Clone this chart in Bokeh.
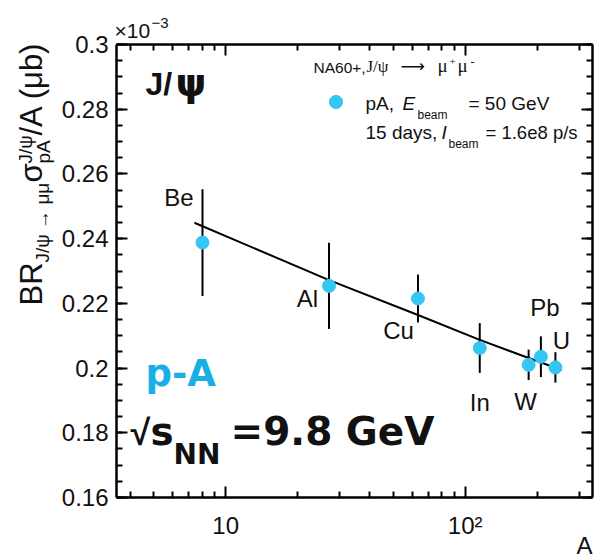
import math
from bokeh.plotting import figure
from bokeh.models import (ColumnDataSource, Label, LinearAxis, LogAxis, LogScale, FixedTicker,
                          Range1d, Legend, LegendItem)
from bokeh.embed import file_html
from bokeh.resources import INLINE
from bokeh.core.properties import value

# J/psi production per nucleon in p-A collisions (units of 1e-3 ub)
targets = ["Be", "Al", "Cu", "In", "W", "Pb", "U"]
mass_number = [8, 27, 63.5, 115, 184, 207, 238]
sigma_over_A = [0.2388, 0.2254, 0.2215, 0.2062, 0.2010, 0.2035, 0.2002]
sigma_err = [0.0165, 0.0133, 0.0074, 0.0077, 0.0047, 0.0063, 0.0047]

# power-law fit through the targets
fit_A = [7.4, 27, 63.5, 115, 184, 253]
fit_sigma = [0.2449, 0.2272, 0.2164, 0.2087, 0.2031, 0.1994]

# axis limits and ticks
x_lim = (3.5, 340)
y_lim = (0.16, 0.30)
y_ticks = [0.16, 0.18, 0.2, 0.22, 0.24, 0.26, 0.28, 0.3]
y_tick_labels = ["0.16", "0.18", "0.2", "0.22", "0.24", "0.26", "0.28", "0.3"]
y_minor = [round(0.16 + 0.005 * k, 3) for k in range(29)]
x_ticks = [10, 100]
x_tick_labels = ["10", "10\u00b2"]
x_minor = [4, 5, 6, 7, 8, 9, 20, 30, 40, 50, 60, 70, 80, 90, 200, 300]

# placement of the element names relative to their points (px)
LAB_SIZE = 24
lab_dx = [-9, -11, -4, 0, -3, 4, 6]
lab_dy = [-35, 22, 42, 64, 47, -39, -17]
lab_align = ["right", "right", "right", "center", "center", "center", "center"]

CYAN = "#36C6F4"
CYAN_TXT = "#1AAEE6"
W, H = 597, 558
# box of the plotting area on the canvas (px from top-left)
XL, XR, YT, YB = 116, 592, 44, 497
# distance between the requested baseline and where the text lands, per px of font size
BASE_FIX = 0.41

# the drawing frame covers the whole canvas; the axes sit at fixed
# locations that outline the plotting box
kx = (math.log10(x_lim[1]) - math.log10(x_lim[0])) / (XR - XL)
ky = (y_lim[1] - y_lim[0]) / (YB - YT)
x_range = Range1d(10 ** (math.log10(x_lim[0]) - XL * kx),
                  10 ** (math.log10(x_lim[1]) + (W - XR) * kx))
y_range = Range1d(y_lim[0] - (H - YB) * ky, y_lim[1] + YT * ky)

p = figure(width=W, height=H, x_axis_type=None, y_axis_type=None, output_backend="svg",
           toolbar_location=None, x_range=x_range, y_range=y_range, min_border=0)
p.x_scale = LogScale()
p.grid.visible = False
p.outline_line_color = None
p.background_fill_color = "white"
p.border_fill_color = "white"


def style_axis(ax, labels=True):
    ax.axis_line_width = 2.5
    ax.major_tick_in = 11
    ax.major_tick_out = 0
    ax.minor_tick_in = 6
    ax.minor_tick_out = 0
    ax.major_tick_line_width = 2
    ax.minor_tick_line_width = 2
    ax.major_label_text_font = "Liberation Sans"
    ax.major_label_text_font_size = "24px"
    ax.major_label_text_color = "#111111"
    if not labels:
        ax.major_label_text_font_size = "6px"
        ax.major_label_standoff = 0


left = LinearAxis(ticker=FixedTicker(ticks=y_ticks, minor_ticks=y_minor),
                  fixed_location=x_lim[0], bounds=y_lim)
left.major_label_overrides = dict(zip(y_ticks, y_tick_labels))
style_axis(left)
left.major_label_standoff = 8
p.add_layout(left, "left")

bottom = LogAxis(ticker=FixedTicker(ticks=x_ticks, minor_ticks=x_minor),
                 fixed_location=y_lim[0], bounds=x_lim)
bottom.major_label_overrides = dict(zip(x_ticks, x_tick_labels))
style_axis(bottom)
bottom.major_label_standoff = 14
p.add_layout(bottom, "below")

right = LinearAxis(ticker=FixedTicker(ticks=y_ticks, minor_ticks=y_minor),
                   fixed_location=x_lim[1], bounds=y_lim)
style_axis(right, labels=False)
right.major_label_overrides = {t: " " for t in y_ticks}
p.add_layout(right, "right")

top = LogAxis(ticker=FixedTicker(ticks=x_ticks, minor_ticks=x_minor),
              fixed_location=y_lim[1], bounds=x_lim)
style_axis(top, labels=False)
top.major_label_overrides = {t: " " for t in x_ticks}
p.add_layout(top, "above")

src = ColumnDataSource(dict(
    A=mass_number, s=sigma_over_A,
    lo=[v - e for v, e in zip(sigma_over_A, sigma_err)],
    hi=[v + e for v, e in zip(sigma_over_A, sigma_err)],
    name=targets, dx=lab_dx, dy=[d - BASE_FIX * LAB_SIZE for d in lab_dy], align=lab_align))

p.segment(x0="A", y0="lo", x1="A", y1="hi", source=src, line_color="black", line_width=2)
p.line(fit_A, fit_sigma, line_color="black", line_width=2)
pts = p.scatter(x="A", y="s", source=src, size=13, fill_color=CYAN, line_color=CYAN)
p.text(x="A", y="s", text="name", source=src, x_offset="dx", y_offset="dy",
       text_align="align", text_baseline="alphabetic",
       text_font=value("Liberation Sans"), text_font_size=f"{LAB_SIZE}px",
       text_color="#111111")


def put(x, y, text, size, font="Liberation Sans", style="normal", color="#111111",
        angle=0.0, align="left"):
    """Place a text on the canvas with its baseline starting at (x, y), px from top-left."""
    if angle:
        x -= BASE_FIX * size
    else:
        y -= BASE_FIX * size
    p.add_layout(Label(x=x, y=H - y, x_units="screen", y_units="screen", text=text,
                       text_font=font, text_font_size=f"{size}px", text_font_style=style,
                       text_color=color, angle=angle, text_align=align,
                       text_baseline="alphabetic"))


# exponent of the y axis
put(114, 39, "\u00d710", 21)
put(151, 29, "\u22123", 15)

# y axis title, rotated
R = math.pi / 2
put(43.5, 305, "BR", 31, angle=R)
put(50, 262, "J/\u03c8 \u2192 \u03bc\u03bc", 19, angle=R)
put(43.5, 182, "\u03c3", 31, angle=R)
put(33, 163, "J/\u03c8", 19, angle=R)
put(51, 163, "pA", 19, angle=R)
put(43.5, 135, "/A (\u03bcb)", 31, angle=R)

# x axis title
put(576, 555, "A", 24)

# big labels
put(145, 97, "J/", 32, style="bold")
put(175, 98, "\u03c8", 39, font="DejaVu Sans", style="bold")
put(145, 388, "p-A", 37, font="DejaVu Sans", style="bold", color=CYAN_TXT)
put(130, 447, "\u221a", 36, style="bold")
put(150, 447, "s", 39, font="DejaVu Sans", style="bold")
put(173, 465, "NN", 28, font="DejaVu Sans", style="bold")
put(230, 447, "=9.8 GeV", 39, font="DejaVu Sans", style="bold")

# legend block
put(313, 73, "NA60+,", 15.5)
put(366, 73, "J/\u03c8", 17, font="Liberation Serif")
put(400, 72, "\u27f6", 17, font="DejaVu Sans")
put(437, 73, "\u03bc", 19, font="Liberation Serif")
put(449, 66, "+", 11, font="Liberation Serif")
put(457, 73, "\u03bc", 19, font="Liberation Serif")
put(470, 66, "-", 12, font="Liberation Serif")

put(365, 111, "pA,", 19)
put(402, 111, "E", 19, style="italic")
put(417, 119, "beam", 12)
put(468, 111, "= 50 GeV", 19)

put(365, 140, "15 days,", 19)
put(441, 140, "I", 19, style="italic")
put(448, 148, "beam", 12)
put(485, 140, "= 1.6e8 p/s", 18.5)

G = 33
leg = Legend(items=[LegendItem(label=" ", renderers=[pts])],
             location=(335 - G / 2, H - 101 - G / 2), padding=0, margin=0,
             glyph_width=G, glyph_height=G, label_width=0, label_height=G,
             label_standoff=0, spacing=0, label_text_font_size="8px",
             border_line_alpha=0, background_fill_alpha=0)
p.add_layout(leg)

open("out.html", "w").write(file_html(p, INLINE))
